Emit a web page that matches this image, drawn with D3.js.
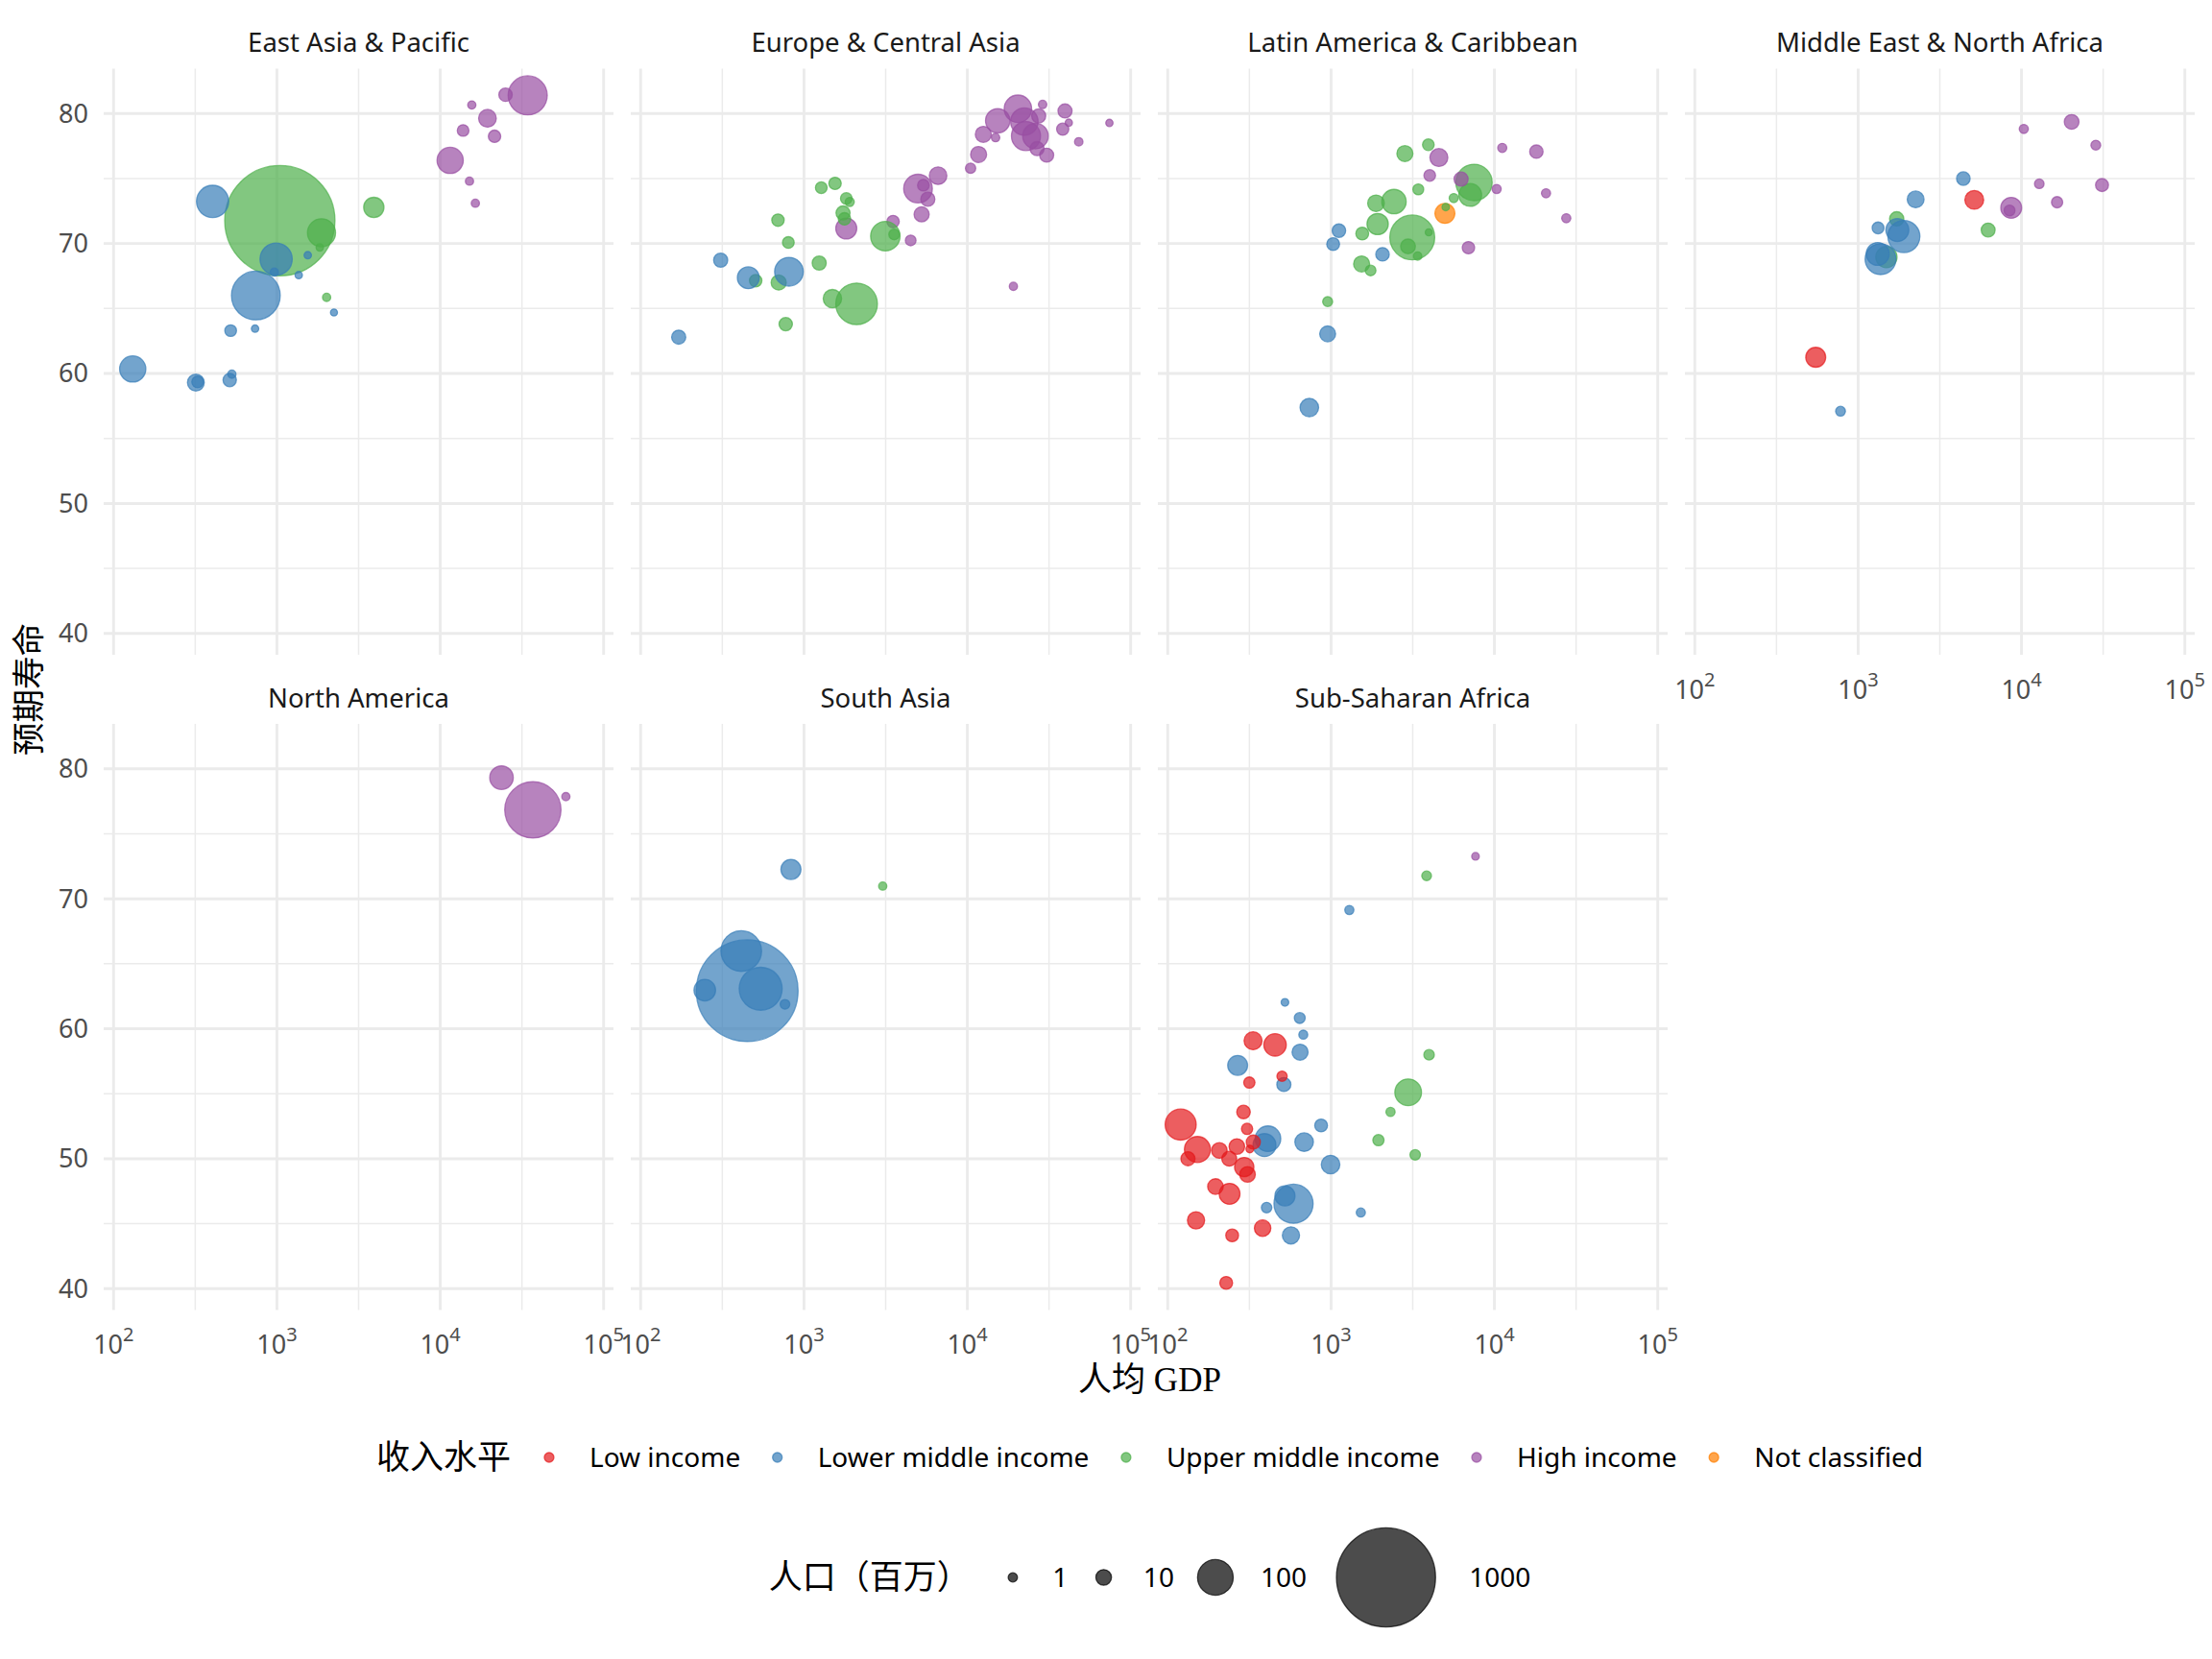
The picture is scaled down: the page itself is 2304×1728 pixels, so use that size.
<!DOCTYPE html>
<html>
<head>
<meta charset="utf-8">
<script src="https://cdn.jsdelivr.net/npm/d3@7"></script>
<style>
body { margin: 0; background: #fff; }
text { font-family: "Noto Sans", "Open Sans", sans-serif; }
.cjk { font-family: "Liberation Serif", "Noto Sans CJK SC", serif; }
</style>
</head>
<body>
<div id="chart"></div>
<script>
// facets, income groups and axis ticks
var regions = ["East Asia & Pacific", "Europe & Central Asia", "Latin America & Caribbean",
	"Middle East & North Africa", "North America", "South Asia", "Sub-Saharan Africa"];
var incomeKeys = ["L", "LM", "UM", "H", "NC"];
var incomeLabels = ["Low income", "Lower middle income", "Upper middle income", "High income", "Not classified"];
var incomeColors = ["#E41A1C", "#377EB8", "#4DAF4A", "#984EA3", "#FF7F00"];
var xTicks = [100, 1000, 10000, 100000];
var xTickExp = ["2", "3", "4", "5"];
var yTicks = [40, 50, 60, 70, 80];
var yMinor = [45, 55, 65, 75];
var sizeBreaks = [1, 10, 100, 1000];

// [income, gdp per capita, life expectancy, population (millions)]
var eastAsiaPacific = [
	["H", 34300, 81.4, 125], ["H", 25100, 81.45, 5.8], ["H", 15600, 80.66, 0.4],
	["H", 19450, 79.64, 15], ["H", 13800, 78.7, 3.3], ["H", 21500, 78.25, 4.3],
	["H", 11500, 76.4, 46], ["H", 15100, 74.8, 0.4], ["H", 16400, 73.1, 0.4],
	["UM", 1042, 71.76, 1255], ["LM", 404, 73.24, 78], ["UM", 3920, 72.78, 22.6],
	["UM", 1875, 70.83, 55], ["UM", 1830, 69.7, 0.13], ["LM", 989, 68.8, 78],
	["LM", 964, 67.8, 0.4], ["LM", 1545, 69.1, 0.13], ["LM", 1360, 67.57, 0.13],
	["LM", 743, 66.0, 209], ["UM", 2015, 65.86, 0.4], ["LM", 2235, 64.7, 0.05],
	["LM", 521, 63.3, 3.3], ["LM", 735, 63.45, 0.13], ["LM", 131, 60.35, 46],
	["LM", 319, 59.3, 12.8], ["LM", 327, 59.35, 3.3], ["LM", 514, 59.5, 5.8],
	["LM", 530, 59.95, 0.4]
];
var europeCentralAsia = [
	["H", 20400, 80.37, 52], ["H", 15350, 79.45, 38], ["H", 12530, 78.4, 11],
	["H", 14890, 78.15, 0.5], ["H", 11720, 76.85, 11], ["H", 10470, 75.8, 1.8],
	["H", 22340, 79.38, 52], ["H", 27350, 79.82, 7], ["H", 28900, 80.7, 0.5],
	["H", 22860, 78.27, 60], ["H", 26140, 78.27, 43], ["H", 26730, 77.3, 7],
	["H", 30600, 76.8, 7], ["H", 39630, 80.2, 7], ["H", 41800, 79.3, 0.1],
	["H", 38370, 78.8, 4], ["H", 48100, 77.83, 0.5], ["H", 74100, 79.28, 0.1],
	["H", 6620, 75.22, 14.7], ["H", 4990, 74.23, 58], ["H", 5380, 74.49, 3.3],
	["H", 5730, 73.41, 7], ["H", 5250, 72.25, 9], ["H", 3510, 71.69, 4.3],
	["H", 4500, 70.24, 2.2], ["H", 1815, 71.16, 25], ["H", 19140, 66.71, 0.4],
	["UM", 1276, 74.3, 3.3], ["UM", 1549, 74.63, 4.3], ["UM", 1816, 73.47, 3.3],
	["UM", 1905, 73.2, 0.9], ["UM", 1734, 72.35, 7], ["UM", 1770, 71.9, 4.3],
	["UM", 693, 71.8, 4.3], ["UM", 802, 70.08, 3.3], ["UM", 3148, 70.57, 62],
	["UM", 3565, 70.7, 2.2], ["UM", 1239, 68.5, 7], ["UM", 506, 67.14, 4.3],
	["UM", 700, 67.0, 9], ["UM", 1493, 65.76, 17], ["UM", 2099, 65.36, 145],
	["UM", 773, 63.8, 5.8],
	["LM", 309, 68.72, 7], ["LM", 456, 67.37, 28], ["LM", 809, 67.83, 58],
	["LM", 171, 62.8, 7]
];
var latinAmericaCaribbean = [
	["UM", 3940, 77.6, 3.3], ["UM", 2831, 76.92, 11], ["H", 4571, 76.62, 15.8],
	["H", 4018, 75.24, 3.3], ["UM", 3420, 74.17, 2.4], ["UM", 2427, 73.23, 38],
	["UM", 1884, 73.1, 12.4], ["UM", 1928, 71.5, 26], ["UM", 1552, 70.77, 4.9],
	["UM", 3141, 70.47, 173], ["UM", 3963, 70.86, 0.06], ["UM", 2958, 69.78, 8.2],
	["UM", 3388, 69.04, 0.48], ["LM", 1117, 70.99, 6], ["LM", 1030, 69.96, 4.9],
	["LM", 2065, 69.17, 6], ["UM", 1538, 68.43, 11], ["NC", 4977, 72.32, 21.4],
	["UM", 1746, 67.93, 2.2], ["UM", 953, 65.53, 1.5], ["UM", 7499, 74.7, 105],
	["UM", 7112, 73.74, 31.5], ["UM", 5636, 73.5, 0.9], ["H", 6252, 74.96, 7],
	["H", 11170, 77.36, 0.9], ["H", 18070, 77.07, 5.8], ["H", 10320, 74.2, 0.9],
	["H", 20700, 73.87, 0.9], ["H", 27540, 71.95, 0.9], ["H", 6934, 69.68, 4.3],
	["UM", 5035, 72.81, 0.13], ["LM", 953, 63.05, 10.6], ["LM", 736, 57.38, 17.4]
];
var middleEastNorthAfrica = [
	["H", 20280, 79.36, 8.2], ["H", 10330, 78.82, 0.9], ["H", 28510, 77.57, 1.4],
	["H", 12850, 74.6, 1.2], ["H", 31120, 74.5, 5.1], ["H", 16520, 73.18, 2.8],
	["H", 8650, 72.75, 24.5], ["H", 8450, 72.54, 2.4], ["L", 5140, 73.36, 18],
	["L", 550, 61.25, 21.4], ["UM", 6250, 71.04, 6.7], ["UM", 1722, 71.9, 7.4],
	["UM", 1489, 68.96, 26], ["LM", 4406, 75.0, 6.1], ["LM", 2249, 73.4, 12.8],
	["LM", 1324, 71.2, 3.5], ["LM", 1738, 71.04, 32], ["LM", 1905, 70.54, 77],
	["LM", 1371, 68.8, 70], ["LM", 1318, 69.2, 32], ["LM", 780, 57.1, 1.4]
];
var northAmerica = [
	["H", 23710, 79.32, 34.5], ["H", 36900, 76.84, 290], ["H", 58750, 77.86, 0.4]
];
var southAsia = [
	["LM", 832, 72.26, 22], ["UM", 3034, 70.98, 0.4], ["LM", 449, 62.93, 1059],
	["LM", 413, 65.98, 137], ["LM", 543, 63.08, 156], ["LM", 247, 62.97, 27],
	["LM", 765, 61.88, 1.3]
];
var subSaharanAfrica = [
	["H", 7660, 73.27, 0.19], ["UM", 3846, 71.77, 1.3], ["UM", 3981, 58.0, 2],
	["UM", 2965, 55.11, 48], ["UM", 2312, 53.6, 0.9], ["UM", 1950, 51.43, 2.8],
	["UM", 3273, 50.3, 2], ["LM", 1294, 69.14, 0.9], ["LM", 522, 62.03, 0.2],
	["LM", 643, 60.83, 2.4], ["LM", 676, 59.55, 0.8], ["LM", 646, 58.2, 11],
	["LM", 268, 57.18, 21.4], ["LM", 514, 55.71, 7], ["LM", 869, 52.56, 4.85],
	["LM", 411, 51.54, 43], ["LM", 391, 51.05, 32], ["LM", 684, 51.28, 17.4],
	["LM", 993, 49.55, 17.4], ["LM", 589, 46.54, 125], ["LM", 522, 47.14, 22],
	["LM", 403, 46.24, 2], ["LM", 1521, 45.86, 0.9], ["LM", 568, 44.1, 13.8],
	["L", 333, 59.08, 15.8], ["L", 454, 58.76, 30], ["L", 501, 56.35, 1.8],
	["L", 316, 55.86, 2.8], ["L", 291, 53.6, 6], ["L", 306, 52.3, 2.8],
	["L", 120, 52.63, 71], ["L", 152, 50.71, 45], ["L", 207, 50.64, 10],
	["L", 265, 50.94, 10], ["L", 334, 51.28, 7], ["L", 318, 50.75, 0.19],
	["L", 133, 50.0, 7], ["L", 238, 50.0, 8.5], ["L", 294, 49.36, 19.6],
	["L", 308, 48.8, 10], ["L", 196, 47.86, 10], ["L", 239, 47.3, 24.5],
	["L", 149, 45.26, 13.8], ["L", 248, 44.1, 4.85], ["L", 381, 44.66, 11.9],
	["L", 228, 40.45, 4.85]
];

var panelData = [eastAsiaPacific, europeCentralAsia, latinAmericaCaribbean,
	middleEastNorthAfrica, northAmerica, southAsia, subSaharanAfrica];

var width = 2304, height = 1728;
var panelW = 531, panelH = 610.6;
var gridColor = "#ebebeb";

var svg = d3.select("#chart").append("svg")
	.attr("width", width)
	.attr("height", height)
	.style("display", "block");

svg.append("rect")
	.attr("width", width)
	.attr("height", height)
	.attr("fill", "#fff");

var x = d3.scaleLog().domain([100, 100000]).range([10.3, 520.7]);
var y = d3.scaleLinear().domain([40, 80]).range([588.4, 46.9]);
var r = d3.scaleSqrt().domain([0, 1000]).range([3.9, 52.2]);
var color = d3.scaleOrdinal().domain(incomeKeys).range(incomeColors);

// minor x breaks sit half way between the decades
var xMinor = d3.pairs(xTicks).map(function(p){ return Math.sqrt(p[0] * p[1]); });

panelData.forEach(function(rows, i){
	var col = i % 4, row = Math.floor(i / 4);
	var g = svg.append("g")
		.attr("transform", "translate(" + (108 + col * 549) + "," + (71.4 + row * 682.5) + ")");

	//grid
	g.selectAll(".ymin").data(yMinor).enter().append("line")
		.attr("x1", 0).attr("x2", panelW)
		.attr("y1", function(d){ return y(d); }).attr("y2", function(d){ return y(d); })
		.attr("stroke", gridColor).attr("stroke-width", 1.5);
	g.selectAll(".xmin").data(xMinor).enter().append("line")
		.attr("y1", 0).attr("y2", panelH)
		.attr("x1", function(d){ return x(d); }).attr("x2", function(d){ return x(d); })
		.attr("stroke", gridColor).attr("stroke-width", 1.5);
	g.selectAll(".ymaj").data(yTicks).enter().append("line")
		.attr("x1", 0).attr("x2", panelW)
		.attr("y1", function(d){ return y(d); }).attr("y2", function(d){ return y(d); })
		.attr("stroke", gridColor).attr("stroke-width", 2.9);
	g.selectAll(".xmaj").data(xTicks).enter().append("line")
		.attr("y1", 0).attr("y2", panelH)
		.attr("x1", function(d){ return x(d); }).attr("x2", function(d){ return x(d); })
		.attr("stroke", gridColor).attr("stroke-width", 2.9);

	//strip title
	g.append("text")
		.attr("x", panelW / 2)
		.attr("y", -17)
		.attr("text-anchor", "middle")
		.attr("font-size", 27.5)
		.attr("fill", "#1a1a1a")
		.text(regions[i]);

	//bubbles
	g.selectAll("circle.pt").data(rows).enter().append("circle")
		.attr("class", "pt")
		.attr("cx", function(d){ return x(d[1]); })
		.attr("cy", function(d){ return y(d[2]); })
		.attr("r", function(d){ return r(d[3]) - 0.6; })
		.attr("fill", function(d){ return color(d[0]); })
		.attr("fill-opacity", 0.7)
		.attr("stroke", function(d){ return color(d[0]); })
		.attr("stroke-opacity", 0.7)
		.attr("stroke-width", 1.3);

	//y labels on the first column only
	if (col == 0) {
		g.selectAll(".ylab").data(yTicks).enter().append("text")
			.attr("x", -16)
			.attr("y", function(d){ return y(d); })
			.attr("dy", "0.35em")
			.attr("text-anchor", "end")
			.attr("font-size", 27)
			.attr("fill", "#4d4d4d")
			.text(function(d){ return d; });
	}

	//x labels where nothing sits below
	if (i >= 3) {
		var t = g.selectAll(".xlab").data(xTicks).enter().append("text")
			.attr("x", function(d){ return x(d); })
			.attr("y", panelH + 46)
			.attr("text-anchor", "middle")
			.attr("font-size", 27)
			.attr("fill", "#4d4d4d");
		t.append("tspan").text("10");
		t.append("tspan")
			.attr("dy", -13)
			.attr("font-size", 20)
			.text(function(d, j){ return xTickExp[j]; });
	}
});

//axis titles
svg.append("text")
	.attr("class", "cjk")
	.attr("x", 1197.5)
	.attr("y", 1449)
	.attr("text-anchor", "middle")
	.attr("font-size", 35)
	.attr("fill", "#000")
	.text("人均 GDP");

svg.append("text")
	.attr("class", "cjk")
	.attr("transform", "translate(30,718) rotate(-90)")
	.attr("text-anchor", "middle")
	.attr("dominant-baseline", "central")
	.attr("font-size", 34.5)
	.attr("fill", "#000")
	.text("预期寿命");

//income legend
var leg1 = svg.append("g");
var t1 = leg1.append("text")
	.attr("class", "cjk")
	.attr("x", 0).attr("y", 0)
	.attr("dominant-baseline", "central")
	.attr("font-size", 35)
	.text("收入水平");
var lx = t1.node().getComputedTextLength() + 40;
incomeLabels.forEach(function(lab, i){
	leg1.append("circle")
		.attr("cx", lx).attr("cy", 0).attr("r", 5)
		.attr("fill", incomeColors[i]).attr("fill-opacity", 0.7)
		.attr("stroke", incomeColors[i]).attr("stroke-opacity", 0.7).attr("stroke-width", 1.3);
	var tt = leg1.append("text")
		.attr("x", lx + 42).attr("y", 0)
		.attr("dy", "0.35em")
		.attr("font-size", 28)
		.text(lab);
	lx += 42 + tt.node().getComputedTextLength() + 38.5;
});
lx -= 38.5;
leg1.attr("transform", "translate(" + (1197.5 - lx / 2) + ",1518)");

//size legend
var leg2 = svg.append("g");
var t2 = leg2.append("text")
	.attr("class", "cjk")
	.attr("x", 0).attr("y", 0)
	.attr("dominant-baseline", "central")
	.attr("font-size", 35)
	.text("人口（百万）");
var sx = t2.node().getComputedTextLength() + 27;
sizeBreaks.forEach(function(b){
	var rad = r(b);
	var kw = Math.max(34.6, 2.4 * rad);
	leg2.append("circle")
		.attr("cx", sx + kw / 2).attr("cy", 0).attr("r", rad - 0.6)
		.attr("fill", "#000").attr("fill-opacity", 0.7)
		.attr("stroke", "#000").attr("stroke-opacity", 0.7).attr("stroke-width", 1.3);
	var tt = leg2.append("text")
		.attr("x", sx + kw + 24).attr("y", 0)
		.attr("dy", "0.35em")
		.attr("font-size", 28)
		.text(b);
	sx += kw + 24 + tt.node().getComputedTextLength() + 20;
});
sx -= 20;
leg2.attr("transform", "translate(" + (1197.5 - sx / 2) + ",1643)");
</script>
</body>
</html>
